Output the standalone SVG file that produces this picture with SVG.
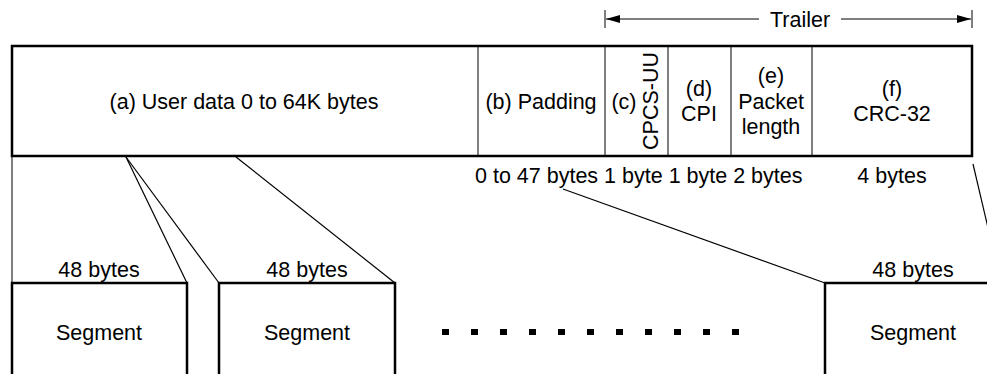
<svg xmlns="http://www.w3.org/2000/svg" width="987" height="374" viewBox="0 0 987 374">
  <defs>
    <style>
      text { font-family: "Liberation Sans", Arial, sans-serif; font-size: 21.5px; fill: #000; }
      .c { text-anchor: middle; }
      .thick { fill: none; stroke: #000; stroke-width: 2.5; }
      .thin { fill: none; stroke: #000; stroke-width: 1; }
      .conn { fill: none; stroke: #000; stroke-width: 1.2; }
      .dot { fill: #000; }
    </style>
    <marker id="ah" viewBox="0 0 14 8" refX="14" refY="4" markerWidth="14" markerHeight="8" markerUnits="userSpaceOnUse" orient="auto">
      <path d="M0,0 L14,4 L0,8 Z" fill="#000"/>
    </marker>
  </defs>
  <rect width="987" height="374" fill="#fff"/>

  <g id="trailer">
    <line class="thin" x1="605" y1="10" x2="605" y2="28"/>
    <line class="thin" x1="972" y1="10" x2="972" y2="28"/>
    <line class="thin" x1="759" y1="19" x2="606" y2="19" marker-end="url(#ah)"/>
    <line class="thin" x1="841" y1="19" x2="971" y2="19" marker-end="url(#ah)"/>
    <text class="c" x="800" y="27">Trailer</text>
  </g>

  <g id="pdu">
    <rect class="thick" x="12" y="46" width="960" height="110"/>
    <line class="thin" x1="478" y1="46" x2="478" y2="156"/>
    <line class="thin" x1="605" y1="46" x2="605" y2="156"/>
    <line class="thin" x1="668" y1="46" x2="668" y2="156"/>
    <line class="thin" x1="731" y1="46" x2="731" y2="156"/>
    <line class="thin" x1="812" y1="46" x2="812" y2="156"/>
  </g>
  <g id="field-a"><text class="c" x="244" y="109">(a) User data 0 to 64K bytes</text></g>
  <g id="field-b"><text class="c" x="541" y="109">(b) Padding</text></g>
  <g id="field-c">
    <text class="c" x="624" y="109">(c)</text>
    <text class="c" transform="translate(658,101) rotate(-90)" x="0" y="0">CPCS-UU</text>
  </g>
  <g id="field-d">
    <text class="c" x="699" y="96">(d)</text>
    <text class="c" x="699" y="121">CPI</text>
  </g>
  <g id="field-e">
    <text class="c" x="771" y="83">(e)</text>
    <text class="c" x="771" y="109">Packet</text>
    <text class="c" x="771" y="134">length</text>
  </g>
  <g id="field-f">
    <text class="c" x="892" y="96">(f)</text>
    <text class="c" x="892" y="121">CRC-32</text>
  </g>
  <g id="sizes">
    <text x="475" y="183">0 to 47 bytes 1 byte 1 byte 2 bytes</text>
    <text class="c" x="892" y="183">4 bytes</text>
  </g>

  <g id="connectors">
    <line class="thin" x1="12" y1="156" x2="12" y2="283"/>
    <line class="conn" x1="126" y1="157" x2="187" y2="283"/>
    <line class="conn" x1="126" y1="157" x2="219" y2="283"/>
    <line class="conn" x1="236" y1="157" x2="395" y2="283"/>
    <line class="conn" x1="563" y1="189" x2="825" y2="283"/>
    <line class="conn" x1="973" y1="164" x2="1001" y2="283"/>
  </g>

  <g id="segment-1">
    <text class="c" x="99" y="277">48 bytes</text>
    <rect class="thick" x="12" y="283" width="175" height="110"/>
    <text class="c" x="99" y="340">Segment</text>
  </g>
  <g id="segment-2">
    <text class="c" x="307" y="277">48 bytes</text>
    <rect class="thick" x="219" y="283" width="176" height="110"/>
    <text class="c" x="307" y="340">Segment</text>
  </g>
  <g id="ellipsis">
    <rect class="dot" x="442" y="329" width="7" height="6"/>
    <rect class="dot" x="471" y="329" width="7" height="6"/>
    <rect class="dot" x="500" y="329" width="7" height="6"/>
    <rect class="dot" x="529" y="329" width="7" height="6"/>
    <rect class="dot" x="558" y="329" width="7" height="6"/>
    <rect class="dot" x="587" y="329" width="7" height="6"/>
    <rect class="dot" x="616" y="329" width="7" height="6"/>
    <rect class="dot" x="645" y="329" width="7" height="6"/>
    <rect class="dot" x="674" y="329" width="7" height="6"/>
    <rect class="dot" x="703" y="329" width="7" height="6"/>
    <rect class="dot" x="732" y="329" width="7" height="6"/>
  </g>
  <g id="segment-3">
    <text class="c" x="913" y="277">48 bytes</text>
    <rect class="thick" x="825" y="283" width="176" height="110"/>
    <text class="c" x="913" y="340">Segment</text>
  </g>
</svg>
